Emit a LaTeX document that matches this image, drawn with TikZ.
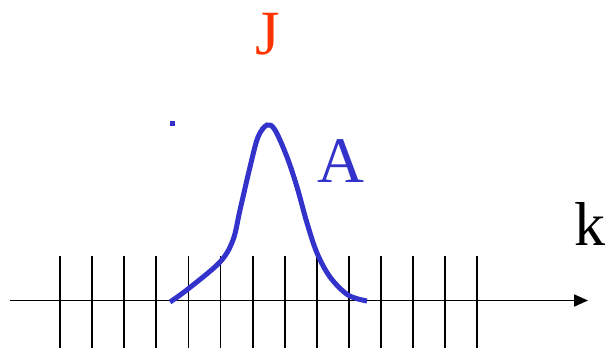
\documentclass[tikz,border=0pt]{standalone}
\usepackage{fontspec}
\setmainfont{Liberation Serif}
\usetikzlibrary{arrows,arrows.meta}

\definecolor{curveblue}{RGB}{51,51,204}
\definecolor{labelred}{RGB}{255,51,0}

\begin{document}
\begin{tikzpicture}[x=1pt,y=-1pt,
label/.style={inner sep=0pt,anchor=base},
axis/.style={-{Triangle[length=14pt,width=12pt]},line width=1.8pt},
tick/.style={line width=1.8pt},
curve/.style={curveblue,line width=5pt}]

\useasboundingbox (0,0) rectangle (609,348);

\coordinate (O) at (10,300.5);

\coordinate (E) at (588,300.5);

\foreach \i in {0,...,13}
  \draw[tick] (60+32.1*\i,256) -- (60+32.1*\i,348);

\draw[axis] (O) -- (E);

\draw[curve] plot[smooth,tension=0.55] coordinates {(170,302) (188,289) (220,262) (233,240) (240,210) (250,167) (258,137) (267,125) (275,130) (287,157) (297,187) (307,223) (317,253) (330,277) (348,295) (367,301)};

\fill[curveblue] (170,120.5) rectangle (175,125.5);

\node[label,labelred,font=\fontsize{63}{63}\selectfont] (J) at (268,54) {J};

\node[label,curveblue,font=\fontsize{65}{65}\selectfont] (A) at (341,182) {A};

\node[label,font=\fontsize{62}{62}\selectfont] (k) at (590,245) {k};

\end{tikzpicture}
\end{document}
